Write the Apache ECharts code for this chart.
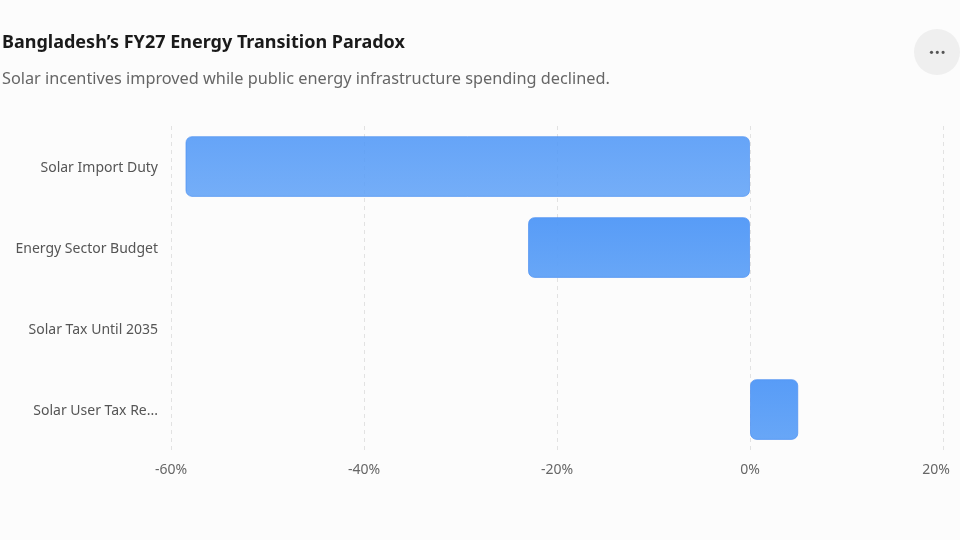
<!DOCTYPE html>
<html><head><meta charset="utf-8">
<script src="https://cdn.jsdelivr.net/npm/echarts@6/dist/echarts.min.js"></script>
<style>html,body{margin:0;padding:0;background:#fcfcfc;}#c{width:960px;height:540px;}</style>
</head><body><div id="c"></div>
<script>
const categories = ['Solar Import Duty', 'Energy Sector Budget', 'Solar Tax Until 2035', 'Solar User Tax Re...'];
const values = [-58.5, -23, 0, 5];
const opacities = [0.87, 0.95, 0.95, 0.95];
const xTicks = [-60, -40, -20, 0, 20];
const FONT = '"Segoe UI", "Noto Sans", "Open Sans", sans-serif';

const chart = echarts.init(document.getElementById('c'), null, {renderer: 'canvas'});
chart.setOption({
  backgroundColor: '#fcfcfc',
  animation: false,
  title: {
    text: 'Bangladesh\u2019s FY27 Energy Transition Paradox',
    subtext: 'Solar incentives improved while public energy infrastructure spending declined.',
    left: -3, top: 29, itemGap: 19,
    textStyle: {fontFamily: FONT, fontSize: 18, fontWeight: 'bold', color: '#1a1a1a'},
    subtextStyle: {fontFamily: FONT, fontSize: 16.3, color: '#666'}
  },
  graphic: [
    {type: 'circle', shape: {cx: 937, cy: 52, r: 23}, style: {fill: '#efefef'}},
    {type: 'circle', shape: {cx: 931.5, cy: 52.3, r: 1.6}, style: {fill: '#555'}},
    {type: 'circle', shape: {cx: 937.3, cy: 52.3, r: 1.6}, style: {fill: '#555'}},
    {type: 'circle', shape: {cx: 943.1, cy: 52.3, r: 1.6}, style: {fill: '#555'}}
  ],
  grid: {left: 171, right: 17, top: 126, bottom: 90, containLabel: false},
  xAxis: {
    type: 'value', min: -60, max: 20, interval: 20,
    axisLine: {show: false}, axisTick: {show: false},
    splitLine: {show: true, lineStyle: {type: [4, 4], color: '#e2e2e2', width: 1}},
    axisLabel: {
      formatter: v => v === 20 ? '{r|' + v + '%}' : (xTicks.includes(v) ? v + '%' : ''),
      rich: {r: {padding: [0, 14, 0, 0], fontFamily: FONT, fontSize: 14, color: '#666'}},
      fontFamily: FONT, fontSize: 14, color: '#666', margin: 13
    }
  },
  yAxis: {
    type: 'category', data: categories, inverse: true,
    axisLine: {show: false}, axisTick: {show: false},
    axisLabel: {
      formatter: v => '{a|' + v + '}',
      rich: {a: {padding: [4, 0, 0, 0], fontFamily: FONT, fontSize: 14, color: '#555'}},
      fontFamily: FONT, fontSize: 14, color: '#555', margin: 13
    }
  },
  series: [{
    type: 'bar', barWidth: '75%',
    data: values.map((v, i) => ({
      value: v,
      itemStyle: {opacity: opacities[i], borderWidth: v === 0 ? 0 : 1}
    })),
    itemStyle: {
      borderRadius: 6,
      borderColor: 'rgba(70,140,240,0.7)', borderWidth: 1,
      color: new echarts.graphic.LinearGradient(0, 0, 0, 1, [
        {offset: 0, color: '#4f97f7'},
        {offset: 1, color: '#60a2f7'}
      ])
    }
  }]
});
</script></body></html>
